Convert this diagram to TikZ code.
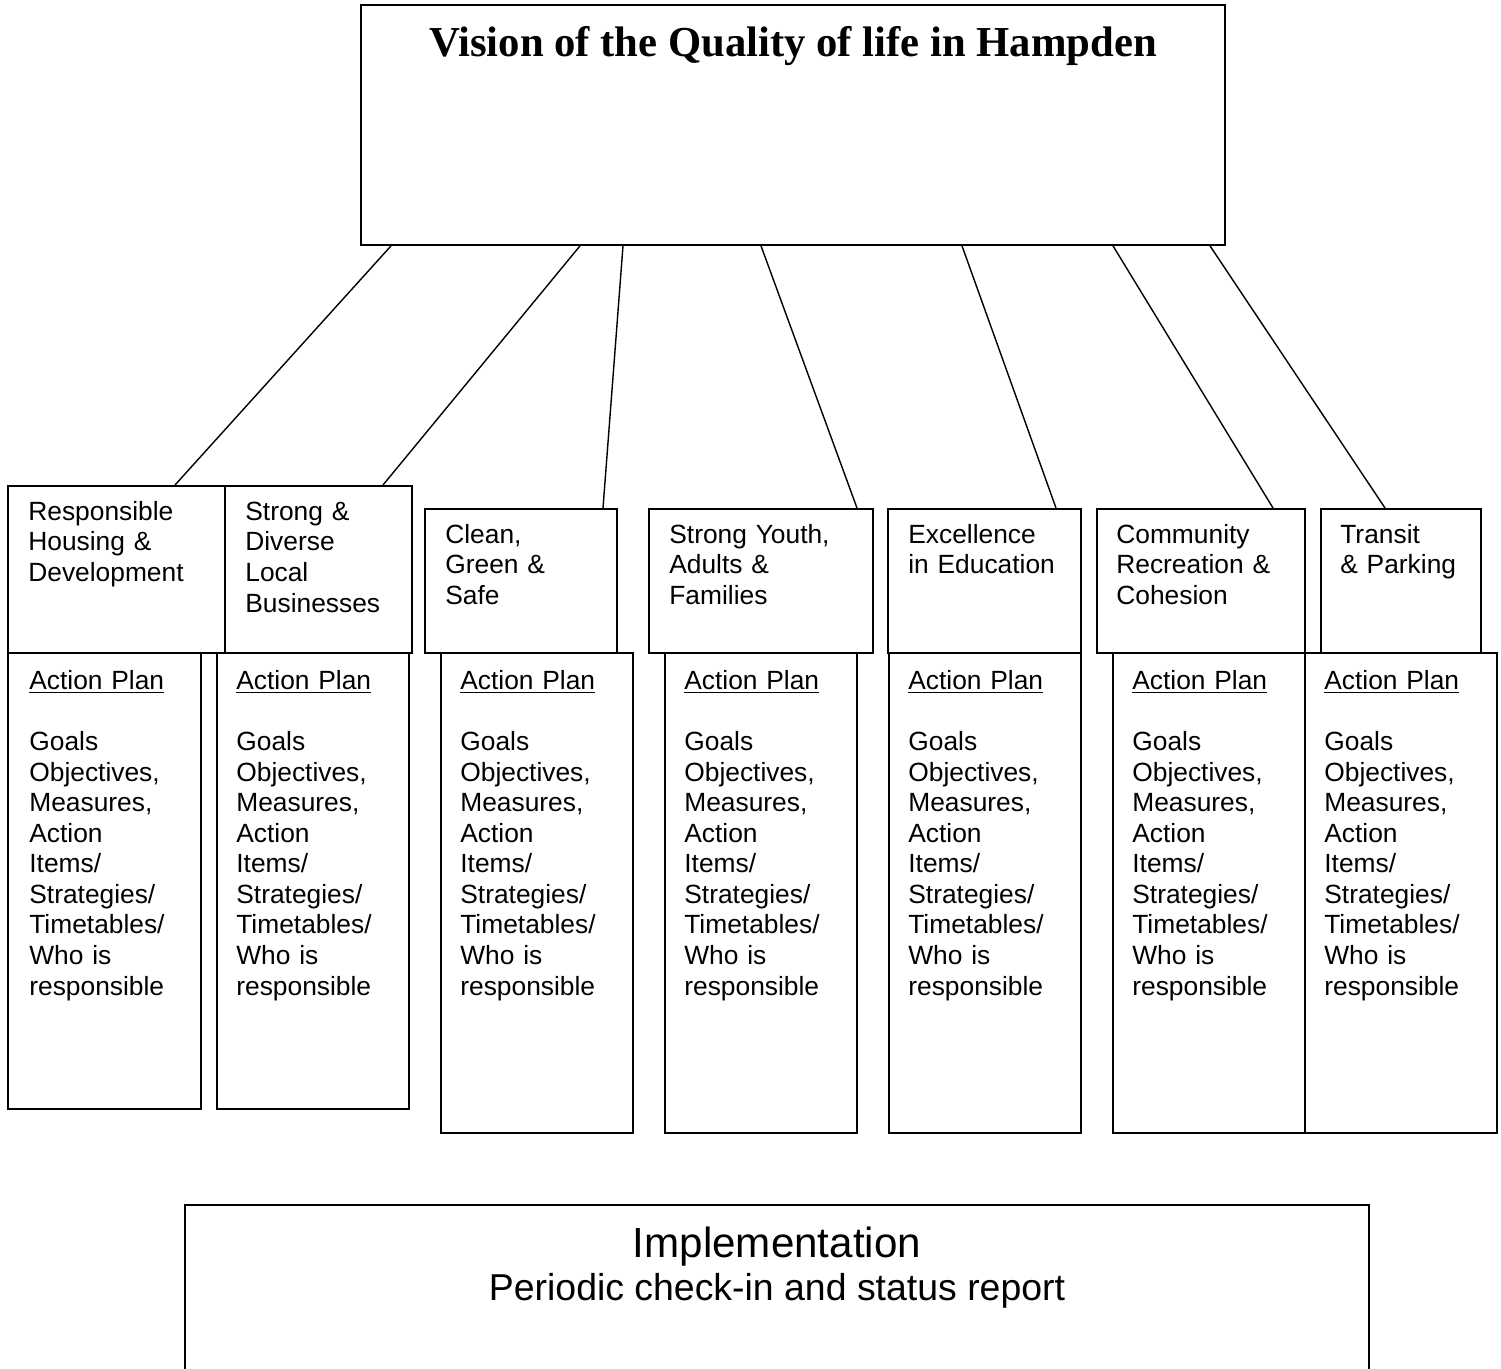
\documentclass[tikz,border=0pt]{standalone}
\usepackage{fontspec}
\setmainfont{Liberation Sans}
\newfontfamily\serifbold{Liberation Serif}
\usetikzlibrary{calc}
\tikzstyle{boite} = [draw,line width=1.1pt,inner sep=0pt,anchor=north west]
\tikzstyle{lien} = [line width=0.8pt]
\tikzstyle{texte} = [anchor=north west,inner sep=0pt,align=left,text width=4.5cm,font=\fontsize{15}{17.4}\selectfont]

\newcommand{\planaction}{\strut\underline{Action Plan}\\[17.4pt]Goals\\Objectives,\\Measures,\\Action\\Items/\\Strategies/\\Timetables/\\Who is\\responsible}

\begin{document}
\begin{tikzpicture}[x=0.02cm,y=-0.02cm]
	\useasboundingbox (0,0) rectangle (1501,1369);
	\clip (0,0) rectangle (1501,1369);

	% vision
	\node[boite,minimum width=17.28cm,minimum height=4.8cm] (vision) at (360,4) {};
	\node[anchor=base,inner sep=0pt,font=\serifbold\bfseries\fontsize{24.3}{28}\selectfont] (visiontxt) at (793,56) {Vision of the Quality of life in Hampden};

	% themes
	\node[boite,minimum width=4.34cm,minimum height=3.34cm] (housing) at (7,485) {};
	\node[texte] (housingtxt) at (28,498.6) {\strut Responsible\\Housing \&\\Development};

	\node[boite,minimum width=3.74cm,minimum height=3.34cm] (business) at (224,485) {};
	\node[texte] (businesstxt) at (245,498.6) {\strut Strong \&\\Diverse\\Local\\Businesses};

	\node[boite,minimum width=3.84cm,minimum height=2.88cm] (clean) at (424,508) {};
	\node[texte] (cleantxt) at (445,521.6) {\strut Clean,\\Green \&\\Safe};

	\node[boite,minimum width=4.48cm,minimum height=2.88cm] (youth) at (648,508) {};
	\node[texte] (youthtxt) at (669,521.6) {\strut Strong Youth,\\Adults \&\\Families};

	\node[boite,minimum width=3.86cm,minimum height=2.88cm] (education) at (887,508) {};
	\node[texte] (educationtxt) at (908,521.6) {\strut Excellence\\in Education};

	\node[boite,minimum width=4.16cm,minimum height=2.88cm] (recreation) at (1096,508) {};
	\node[texte] (recreationtxt) at (1116,521.6) {\strut Community\\Recreation \&\\Cohesion};

	\node[boite,minimum width=3.2cm,minimum height=2.88cm] (transit) at (1320,508) {};
	\node[texte] (transittxt) at (1340,521.6) {\strut Transit\\\& Parking};

	% action plans
	\node[boite,minimum width=3.86cm,minimum height=9.12cm] (plan1) at (7,652) {};
	\node[texte] (plan1txt) at (29,667.6) {\planaction};

	\node[boite,minimum width=3.84cm,minimum height=9.12cm] (plan2) at (216,652) {};
	\node[texte] (plan2txt) at (236,667.6) {\planaction};

	\node[boite,minimum width=3.84cm,minimum height=9.6cm] (plan3) at (440,652) {};
	\node[texte] (plan3txt) at (460,667.6) {\planaction};

	\node[boite,minimum width=3.84cm,minimum height=9.6cm] (plan4) at (664,652) {};
	\node[texte] (plan4txt) at (684,667.6) {\planaction};

	\node[boite,minimum width=3.84cm,minimum height=9.6cm] (plan5) at (888,652) {};
	\node[texte] (plan5txt) at (908,667.6) {\planaction};

	\node[boite,minimum width=3.84cm,minimum height=9.6cm] (plan6) at (1112,652) {};
	\node[texte] (plan6txt) at (1132,667.6) {\planaction};

	\node[boite,minimum width=3.84cm,minimum height=9.6cm] (plan7) at (1304,652) {};
	\node[texte] (plan7txt) at (1324,667.6) {\planaction};

	% links from the vision down to each theme
	\draw[lien] ($(vision.south west)+(31,0)$) -- ($(housing.north west)+(168,0)$);
	\draw[lien] ($(vision.south west)+(220,0)$) -- ($(business.north west)+(159,0)$);
	\draw[lien] ($(vision.south west)+(263,0)$) -- ($(clean.north west)+(179,0)$);
	\draw[lien] ($(vision.south west)+(401,0)$) -- ($(youth.north west)+(209,0)$);
	\draw[lien] ($(vision.south west)+(602,0)$) -- ($(education.north west)+(169,0)$);
	\draw[lien] ($(vision.south west)+(753,0)$) -- ($(recreation.north west)+(177,0)$);
	\draw[lien] ($(vision.south west)+(850,0)$) -- ($(transit.north west)+(65,0)$);

	% implementation
	\node[boite,minimum width=23.68cm,minimum height=5cm] (impl) at (184,1204) {};
	\node[anchor=base,inner sep=0pt,font=\fontsize{24}{28}\selectfont] (impltitle) at (777,1257) {Implementation};
	\node[anchor=base,inner sep=0pt,font=\fontsize{21.3}{25}\selectfont] (implsub) at (777,1300) {Periodic check-in and status report};

\end{tikzpicture}
\end{document}
